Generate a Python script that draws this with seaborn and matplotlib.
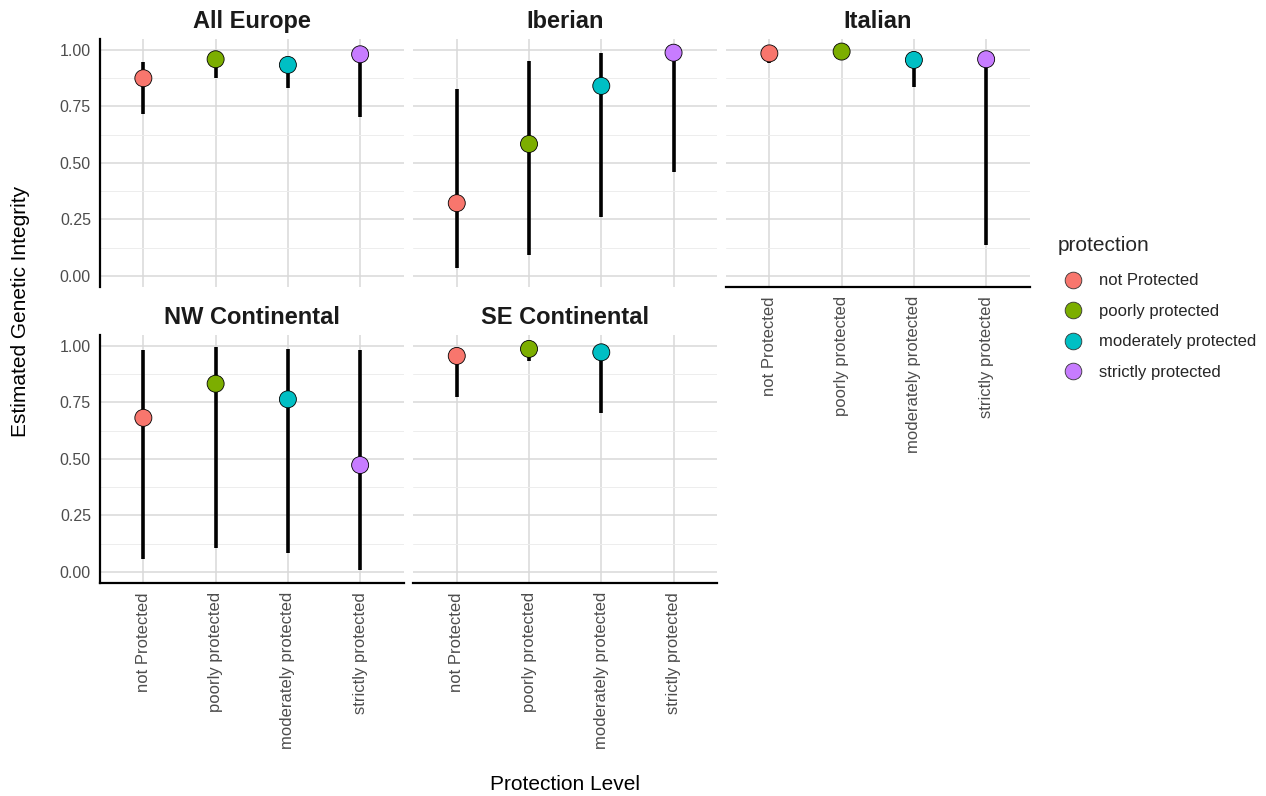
import numpy as np
import pandas as pd
import matplotlib
matplotlib.use("Agg")
import matplotlib.pyplot as plt
import seaborn as sns
from matplotlib.lines import Line2D
from matplotlib.ticker import MultipleLocator

# Regions (facets) and protection levels (x categories)
regions = ["All Europe", "Iberian", "Italian", "NW Continental", "SE Continental"]
levels = ["not Protected", "poorly protected", "moderately protected", "strictly protected"]
level_colors = ["#F8766D", "#7CAE00", "#00BFC4", "#C77CFF"]

# Posterior estimates with lower / upper interval bounds, per region
all_europe_est = [0.875, 0.959, 0.934, 0.981]
all_europe_lo = [0.715, 0.877, 0.832, 0.705]
all_europe_hi = [0.948, 0.985, 0.970, 0.995]

iberian_est = [0.322, 0.584, 0.841, 0.988]
iberian_lo = [0.037, 0.091, 0.260, 0.462]
iberian_hi = [0.827, 0.951, 0.985, 0.999]

italian_est = [0.985, 0.993, 0.956, 0.959]
italian_lo = [0.944, 0.975, 0.838, 0.137]
italian_hi = [0.998, 0.999, 0.990, 0.997]

nw_est = [0.682, 0.833, 0.764, 0.473]
nw_lo = [0.058, 0.108, 0.084, 0.008]
nw_hi = [0.981, 0.994, 0.987, 0.982]

se_est = [0.956, 0.987, 0.972, np.nan]
se_lo = [0.775, 0.934, 0.705, np.nan]
se_hi = [0.985, 0.998, 0.992, np.nan]

estimates = [all_europe_est, iberian_est, italian_est, nw_est, se_est]
lowers = [all_europe_lo, iberian_lo, italian_lo, nw_lo, se_lo]
uppers = [all_europe_hi, iberian_hi, italian_hi, nw_hi, se_hi]

rows = []
for reg, est, lo, hi in zip(regions, estimates, lowers, uppers):
    for lev, e, l, h in zip(levels, est, lo, hi):
        rows.append({"region": reg, "protection": lev, "estimate": e, "lower": l, "upper": h})
df = pd.DataFrame(rows).dropna()
df["protection"] = pd.Categorical(df["protection"], categories=levels, ordered=True)
df["pos"] = df["protection"].cat.codes

sns.set_theme(style="white")
plt.rcParams["font.family"] = ["Liberation Sans", "DejaVu Sans"]

W, H = 1266, 796
fig = plt.figure(figsize=(W / 100, H / 100), dpi=100)

col_left = [100, 413.4, 726]
panel_w = 303.5
row_top = [38.7, 334.7]
panel_h = 248.5

palette = dict(zip(levels, level_colors))
TICK_GRAY = "#4D4D4D"

for i, reg in enumerate(regions):
    r, c = divmod(i, 3)
    left = col_left[c]
    top = row_top[r]
    ax = fig.add_axes([left / W, (H - top - panel_h) / H, panel_w / W, panel_h / H])
    sub = df[df["region"] == reg]

    # interval bars first, then the points on top
    ax.vlines(sub["pos"], sub["lower"], sub["upper"], color="black", lw=2.6, zorder=3)
    sns.scatterplot(data=sub, x="pos", y="estimate", hue="protection", hue_order=levels,
                    palette=palette, s=150, edgecolor="black", linewidth=0.6,
                    legend=False, ax=ax, zorder=4)

    ax.set_xlim(-0.6, 3.6)
    ax.set_ylim(-0.05, 1.05)
    ax.set_xticks(range(len(levels)))
    ax.yaxis.set_major_locator(MultipleLocator(0.25))
    ax.yaxis.set_minor_locator(MultipleLocator(0.125))
    ax.set_yticks([0, 0.25, 0.5, 0.75, 1.0])
    ax.set_yticklabels(["0.00", "0.25", "0.50", "0.75", "1.00"])

    ax.grid(True, which="major", color="#D9D9D9", lw=1.1)
    ax.grid(True, which="minor", axis="y", color="#EDEDED", lw=0.7)
    ax.set_axisbelow(True)
    ax.tick_params(axis="both", which="both", length=0, labelsize=11.5,
                   labelcolor=TICK_GRAY, pad=6.5)

    for sp in ax.spines.values():
        sp.set_visible(False)

    is_left = c == 0
    is_bottom = (r == 1) or (c == 2)
    if is_left:
        ax.spines["left"].set_visible(True)
        ax.spines["left"].set_color("black")
        ax.spines["left"].set_linewidth(1.6)
    else:
        ax.tick_params(axis="y", labelleft=False)
    if is_bottom:
        ax.spines["bottom"].set_visible(True)
        ax.spines["bottom"].set_color("black")
        ax.spines["bottom"].set_linewidth(1.6)
        ax.set_xticklabels(levels, rotation=90, fontsize=12, color=TICK_GRAY, va="top")
    else:
        ax.tick_params(axis="x", labelbottom=False)

    ax.set_xlabel("")
    ax.set_ylabel("")
    ax.set_title(reg, fontsize=17, fontweight="bold", color="#1A1A1A", pad=7.5)

fig.text(21 / W, (H - 311) / H, "Estimated Genetic Integrity", rotation=90,
         ha="center", va="center", fontsize=15, color="black")
fig.text(564.5 / W, (H - 785) / H, "Protection Level", ha="center", va="center",
         fontsize=15, color="black")

handles = [Line2D([0], [0], marker="o", linestyle="", markersize=12,
                  markerfacecolor=col, markeredgecolor="#333333", markeredgewidth=0.6)
           for col in level_colors]
leg = fig.legend(handles, levels, title="protection", loc="upper left",
                 bbox_to_anchor=(1058 / W, (H - 236) / H), frameon=False,
                 fontsize=12, title_fontsize=15, labelspacing=0.93,
                 handletextpad=0.6, handlelength=1.85, borderpad=0, borderaxespad=0)
leg._legend_box.align = "left"
leg._legend_box.sep = 13.3

fig.savefig("out.png", dpi=100)
